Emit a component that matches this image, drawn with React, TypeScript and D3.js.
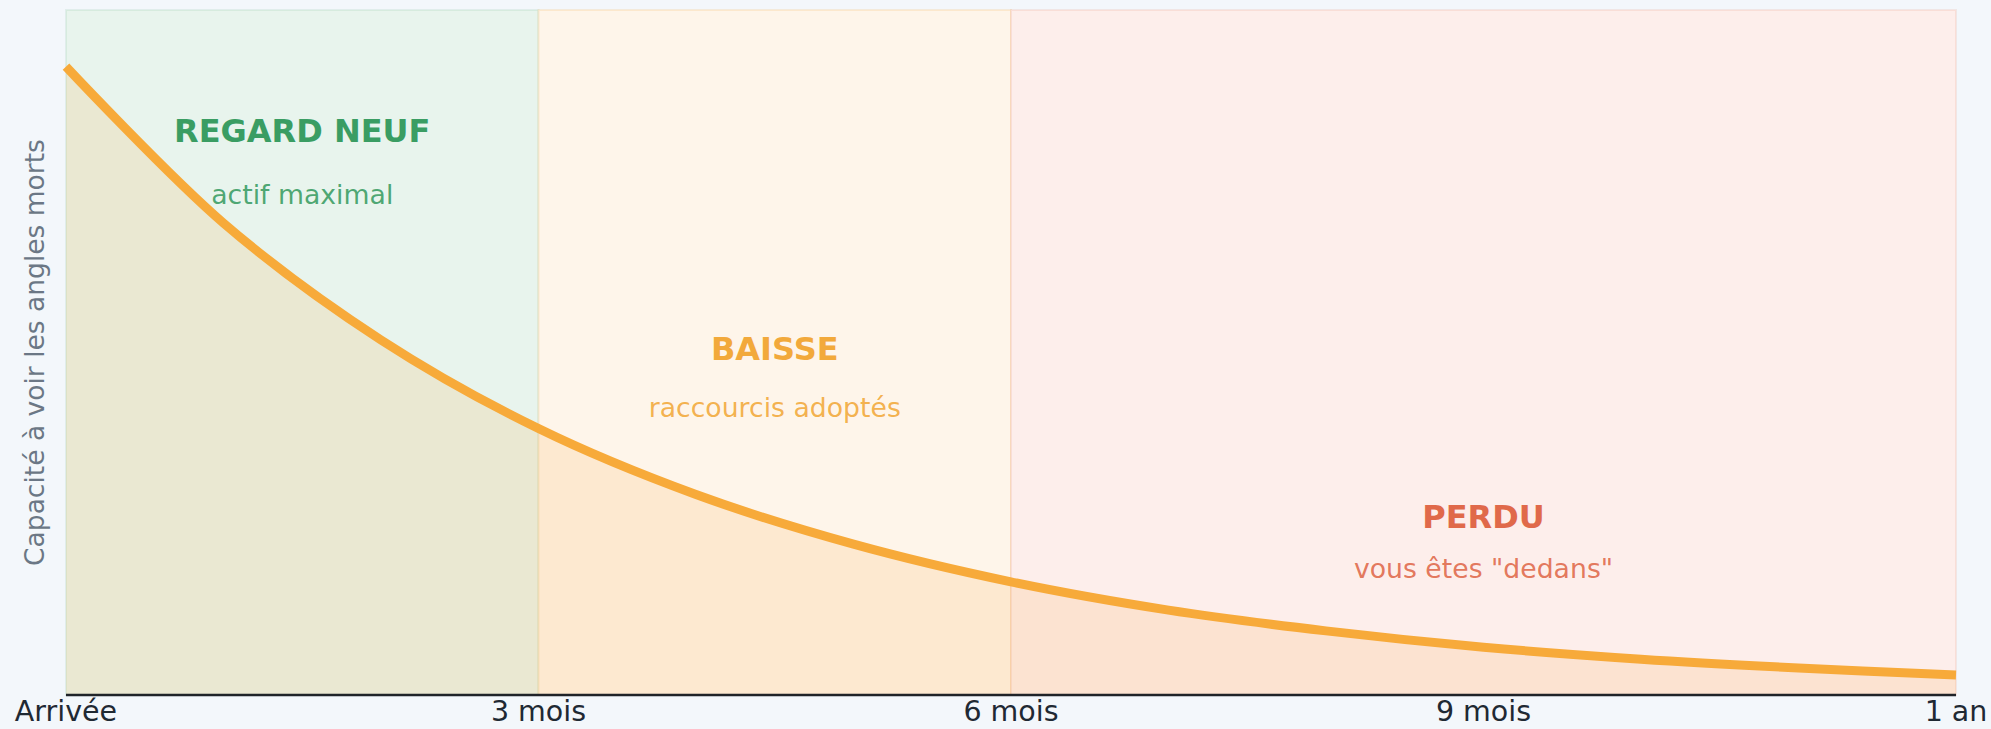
import React from 'react';
import * as d3 from 'd3';

const months = [0, 1, 2, 3, 4, 5, 6, 7, 8, 9, 10, 11, 12];
const capacity = [100, 75.1, 56.5, 42.4, 31.9, 24.0, 18.0, 13.5, 10.2, 7.6, 5.7, 4.3, 3.2];

const tickMonths = [0, 3, 6, 9, 12];
const tickLabels = ['Arrivée', '3 mois', '6 mois', '9 mois', '1 an'];

const zoneStarts = [0, 3, 6];
const zoneEnds = [3, 6, 12];
const zoneTitles = ['REGARD NEUF', 'BAISSE', 'PERDU'];
const zoneSubtitles = ['actif maximal', 'raccourcis adoptés', 'vous êtes "dedans"'];
const zoneTitleLevels = [88, 53.3, 26.6]; // label position in capacity units
const zoneSubtitleLevels = [78.2, 44.2, 18.6];

const yAxisLabel = 'Capacité à voir les angles morts';

const W = 1991;
const H = 729;
const M = { left: 66, right: 35, top: 10, bottom: 34 };

const zoneFill = ['#e8f4ed', '#fef5ea', '#fdeeeb'];
const zoneStroke = ['rgba(58,157,99,0.10)', 'rgba(243,169,58,0.16)', 'rgba(224,105,74,0.12)'];
const zoneText = ['#3a9d63', '#f2a93b', '#e0694a'];
const lineColor = '#f7aa3a';
const FONT = '"DejaVu Sans", Verdana, sans-serif';

export default function App() {
  const x = d3.scaleLinear().domain([0, 12]).range([M.left, W - M.right]);
  const y = d3.scaleLinear().domain([0, 109]).range([H - M.bottom, M.top]);
  const data = months.map((m, i) => ({ m, v: capacity[i] }));

  const line = d3
    .line<{ m: number; v: number }>()
    .x((d) => x(d.m))
    .y((d) => y(d.v))
    .curve(d3.curveCatmullRom.alpha(0.5));
  const area = d3
    .area<{ m: number; v: number }>()
    .x((d) => x(d.m))
    .y0(y(0))
    .y1((d) => y(d.v))
    .curve(d3.curveCatmullRom.alpha(0.5));

  return (
    <svg
      width={W}
      height={H}
      style={{ position: 'fixed', left: 0, top: 0, background: '#f3f7fb' }}
      fontFamily={FONT}
    >
      {zoneStarts.map((s, i) => (
        <rect
          key={'z' + i}
          x={x(s)}
          y={y(109)}
          width={x(zoneEnds[i]) - x(s)}
          height={y(0) - y(109)}
          fill={zoneFill[i]}
          stroke={zoneStroke[i]}
          strokeWidth={2}
        />
      ))}
      <path d={area(data) || ''} fill={lineColor} fillOpacity={0.15} />
      <path d={line(data) || ''} fill="none" stroke={lineColor} strokeWidth={9} strokeLinecap="butt" />
      {zoneStarts.map((s, i) => {
        const cx = (x(s) + x(zoneEnds[i])) / 2;
        return (
          <g key={'t' + i}>
            <text x={cx} y={y(zoneTitleLevels[i])} textAnchor="middle" fontWeight="bold" fontSize={32} fill={zoneText[i]}>
              {zoneTitles[i]}
            </text>
            <text x={cx} y={y(zoneSubtitleLevels[i])} textAnchor="middle" fontSize={26.7} fill={zoneText[i]} fillOpacity={0.9}>
              {zoneSubtitles[i]}
            </text>
          </g>
        );
      })}
      <line x1={x(0)} x2={x(12)} y1={y(0)} y2={y(0)} stroke="#1f2328" strokeWidth={2.5} />
      {tickMonths.map((m, i) => (
        <text key={'k' + i} x={x(m)} y={H - 8} textAnchor="middle" fontSize={28.5} fill="#1f2933">
          {tickLabels[i]}
        </text>
      ))}
      <text
        transform={`translate(44, ${(y(0) + y(109)) / 2}) rotate(-90)`}
        textAnchor="middle"
        fontSize={26.5}
        fill="#6b7785"
      >
        {yAxisLabel}
      </text>
    </svg>
  );
}
